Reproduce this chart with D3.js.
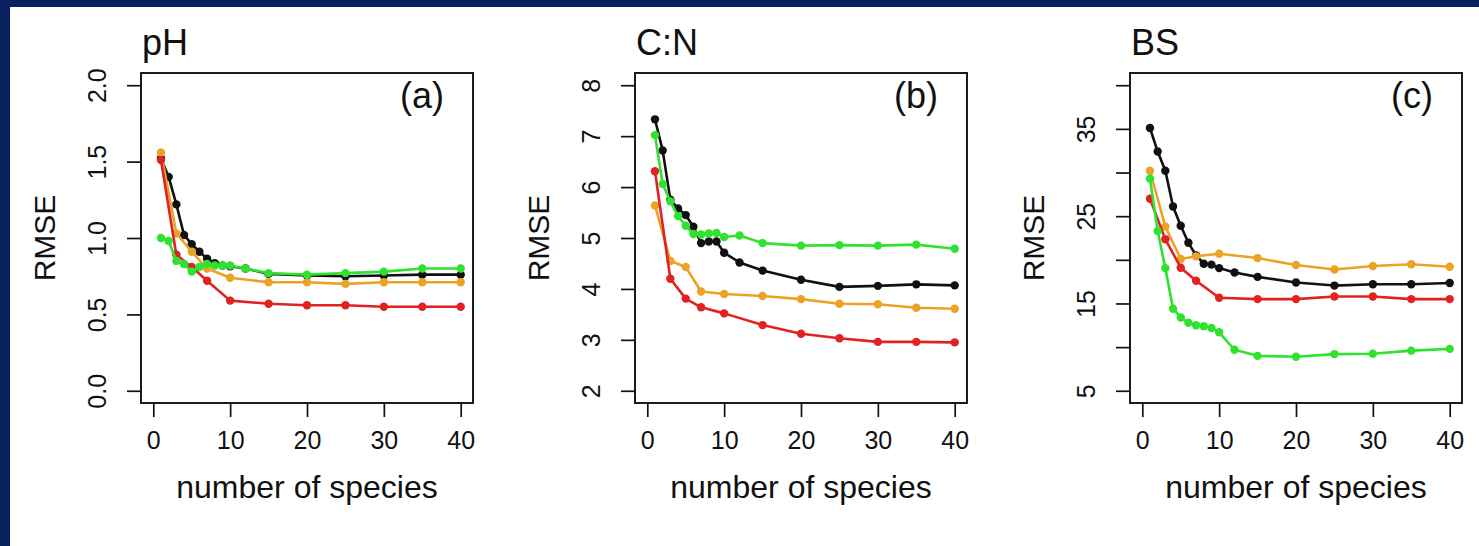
<!DOCTYPE html>
<html>
<head>
<meta charset="utf-8">
<script src="https://cdn.jsdelivr.net/npm/d3@7"></script>
<style>
  html, body { margin: 0; padding: 0; background: #ffffff; }
  svg { display: block; }
  text { font-family: "Liberation Sans", Arial, Helvetica, sans-serif; fill: #111; }
</style>
</head>
<body>
<svg id="chart" width="1479" height="546"></svg>
<script>
// ---------- data ----------
const xFull   = [1, 2, 3, 4, 5, 6, 7, 8, 9, 10, 12, 15, 20, 25, 30, 35, 40];
const xSparse = [1, 3, 5, 7, 10, 15, 20, 25, 30, 35, 40];
const xTicks  = [0, 10, 20, 30, 40];

const titles = ["pH", "C:N", "BS"];
const tags   = ["(a)", "(b)", "(c)"];
const xLabel = "number of species";
const yLabel = "RMSE";

const yLims   = [[0, 2], [2, 8], [5, 40]];
const yTicksA = [0, 0.5, 1, 1.5, 2];
const yTicksB = [2, 3, 4, 5, 6, 7, 8];
const yTicksC = [5, 10, 15, 20, 25, 30, 35, 40];
const yTickLabelsA = ["0.0", "0.5", "1.0", "1.5", "2.0"];
const yTickLabelsB = ["2", "3", "4", "5", "6", "7", "8"];
const yTickLabelsC = ["5", "", "15", "", "25", "", "35", ""];

// pH
const phBlack  = [1.52, 1.40, 1.22, 1.02, 0.96, 0.91, 0.865, 0.835, 0.82, 0.815, 0.80, 0.765, 0.755, 0.75, 0.755, 0.76, 0.76];
const phOrange = [1.56, 1.03, 0.91, 0.80, 0.74, 0.71, 0.71, 0.70, 0.71, 0.71, 0.71];
const phRed    = [1.51, 0.89, 0.81, 0.72, 0.59, 0.57, 0.56, 0.56, 0.55, 0.55, 0.55];
const phGreen  = [1.00, 0.98, 0.85, 0.83, 0.78, 0.81, 0.83, 0.82, 0.82, 0.82, 0.80, 0.77, 0.76, 0.77, 0.78, 0.80, 0.80];
// C:N
const cnBlack  = [7.33, 6.72, 5.75, 5.58, 5.45, 5.22, 4.90, 4.93, 4.93, 4.71, 4.52, 4.36, 4.18, 4.04, 4.06, 4.09, 4.07];
const cnOrange = [5.64, 4.55, 4.43, 3.95, 3.90, 3.86, 3.80, 3.71, 3.70, 3.63, 3.61];
const cnRed    = [6.31, 4.20, 3.81, 3.64, 3.52, 3.29, 3.12, 3.03, 2.96, 2.96, 2.95];
const cnGreen  = [7.02, 6.06, 5.72, 5.43, 5.24, 5.08, 5.07, 5.09, 5.10, 5.02, 5.05, 4.90, 4.85, 4.86, 4.85, 4.87, 4.79];
// BS
const bsBlack  = [35.1, 32.4, 30.2, 26.1, 23.9, 21.95, 20.5, 19.55, 19.45, 19.05, 18.55, 18.05, 17.4, 17.05, 17.2, 17.2, 17.35];
const bsOrange = [30.2, 23.8, 20.1, 20.4, 20.7, 20.2, 19.4, 18.9, 19.3, 19.5, 19.2];
const bsRed    = [27.0, 22.35, 19.1, 17.6, 15.65, 15.5, 15.5, 15.8, 15.8, 15.5, 15.5];
const bsGreen  = [29.3, 23.3, 19.05, 14.4, 13.4, 12.8, 12.5, 12.4, 12.2, 11.7, 9.7, 9.0, 8.9, 9.2, 9.25, 9.6, 9.8];

const seriesColors = { black: "#111111", orange: "#eba326", red: "#e02222", green: "#2fe22f" };

// ---------- build ----------
const panelsData = [
  { yTicks: yTicksA, yTickLabels: yTickLabelsA,
    series: [["black", xFull, phBlack], ["orange", xSparse, phOrange], ["red", xSparse, phRed], ["green", xFull, phGreen]] },
  { yTicks: yTicksB, yTickLabels: yTickLabelsB,
    series: [["black", xFull, cnBlack], ["orange", xSparse, cnOrange], ["red", xSparse, cnRed], ["green", xFull, cnGreen]] },
  { yTicks: yTicksC, yTickLabels: yTickLabelsC,
    series: [["black", xFull, bsBlack], ["orange", xSparse, bsOrange], ["red", xSparse, bsRed], ["green", xFull, bsGreen]] }
];

// layout (plot boxes)
const boxLefts  = [141, 635, 1130];
const boxWidth  = 332;
const boxTop    = 73;
const boxBottom = 403;

const svg = d3.select("#chart");
// white page with navy frame on top and left
svg.append("rect").attr("x", 0).attr("y", 0).attr("width", 1479).attr("height", 546).attr("fill", "#07205e");
svg.append("rect").attr("x", 10).attr("y", 7).attr("width", 1469).attr("height", 539).attr("fill", "#ffffff");

function pad(lim) { const r = lim[1] - lim[0]; return [lim[0] - 0.04 * r, lim[1] + 0.04 * r]; }

panelsData.forEach((p, i) => {
  const L = boxLefts[i], R = L + boxWidth;
  const x = d3.scaleLinear().domain(pad([0, 40])).range([L, R]);
  const y = d3.scaleLinear().domain(pad(yLims[i])).range([boxBottom, boxTop]);
  const g = svg.append("g");

  // axes
  const xAxis = d3.axisBottom(x).tickValues(xTicks).tickSize(14).tickFormat(d3.format("d"));
  const gx = g.append("g").attr("transform", `translate(0,${boxBottom})`).call(xAxis);
  gx.select(".domain").remove();
  gx.selectAll("line").attr("stroke", "#111").attr("stroke-width", 1.7);
  gx.selectAll("text").attr("font-size", 25).attr("dy", "0").attr("y", 46)
    .attr("font-family", "Liberation Sans, Arial, sans-serif").attr("fill", "#111");

  const yAxis = d3.axisLeft(y).tickValues(p.yTicks).tickSize(14).tickFormat((d, k) => p.yTickLabels[k]);
  const gy = g.append("g").attr("transform", `translate(${L},0)`).call(yAxis);
  gy.select(".domain").remove();
  gy.selectAll("line").attr("stroke", "#111").attr("stroke-width", 1.7);
  gy.selectAll("text")
    .attr("x", null).attr("dy", null)
    .attr("font-size", 25)
    .attr("font-family", "Liberation Sans, Arial, sans-serif").attr("fill", "#111")
    .attr("text-anchor", "middle")
    .attr("transform", "translate(-35,0) rotate(-90)");

  // box
  g.append("rect").attr("x", L).attr("y", boxTop).attr("width", boxWidth).attr("height", boxBottom - boxTop)
    .attr("fill", "none").attr("stroke", "#111").attr("stroke-width", 1.9);

  // series
  const line = d3.line().x(d => x(d[0])).y(d => y(d[1]));
  p.series.forEach(([col, xs, ys]) => {
    const pts = xs.map((xv, k) => [xv, ys[k]]);
    const c = seriesColors[col];
    g.append("path").datum(pts).attr("d", line).attr("fill", "none")
      .attr("stroke", c).attr("stroke-width", 2.6).attr("stroke-linejoin", "round");
    g.selectAll(null).data(pts).enter().append("circle")
      .attr("cx", d => x(d[0])).attr("cy", d => y(d[1])).attr("r", 4.2).attr("fill", c);
  });

  // texts
  g.append("text").attr("x", L + 1).attr("y", boxTop - 18).attr("font-size", 36).text(titles[i]);
  g.append("text").attr("x", R - 29).attr("y", boxTop + 35).attr("font-size", 36)
    .attr("text-anchor", "end").text(tags[i]);
  g.append("text").attr("x", (L + R) / 2).attr("y", boxBottom + 95).attr("font-size", 32)
    .attr("text-anchor", "middle").text(xLabel);
  g.append("text").attr("transform", `translate(${L - 86},${(boxTop + boxBottom) / 2}) rotate(-90)`)
    .attr("font-size", 30).attr("text-anchor", "middle").text(yLabel);
});
</script>
</body>
</html>
